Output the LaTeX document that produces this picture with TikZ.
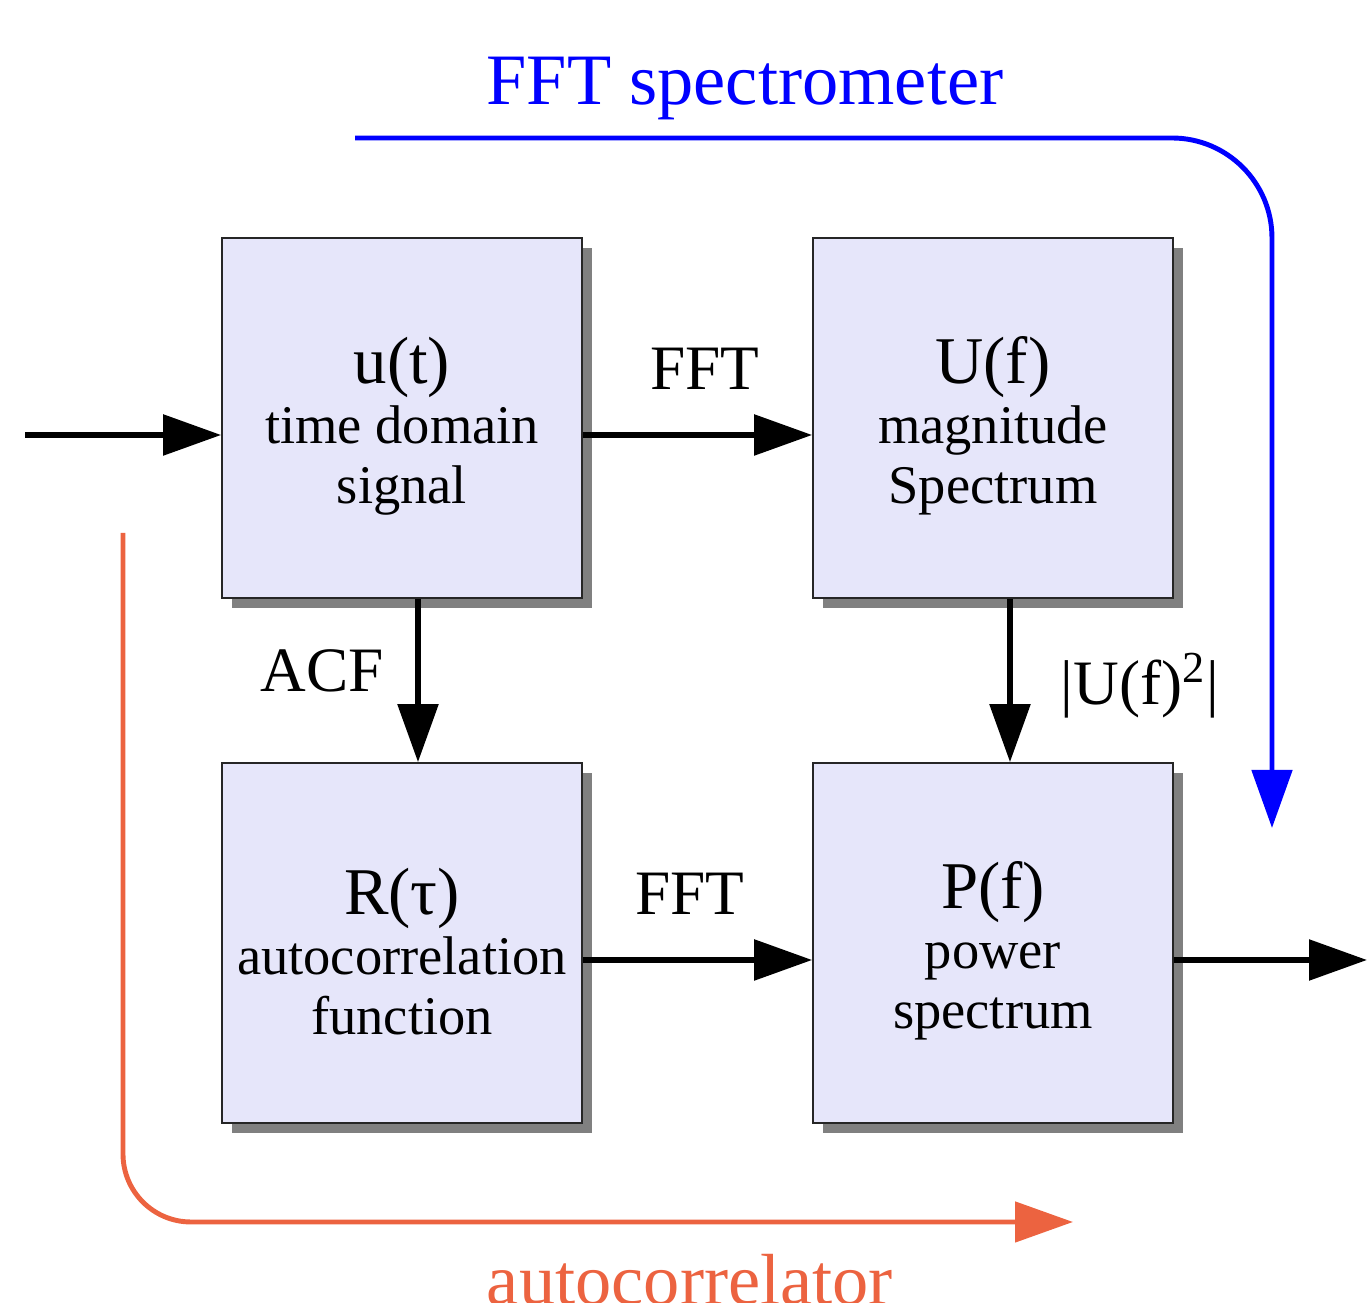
\documentclass[tikz,border=0pt]{standalone}
\usepackage{fontspec}
\setmainfont{Liberation Serif}
\usetikzlibrary{arrows.meta,shadows}

\definecolor{boxfill}{RGB}{230,230,250}
\definecolor{acorange}{RGB}{236,99,64}
\newcommand{\boxtitle}{\rule{0pt}{18pt}\fontsize{19}{21}\selectfont}

\begin{document}
\begin{tikzpicture}[
  blk/.style={draw=black!85, line width=0.5pt, fill=boxfill, minimum size=3.6cm, inner sep=0pt,
    align=center, font=\fontsize{15.5}{17.1}\selectfont,
    drop shadow={shadow xshift=0.1cm, shadow yshift=-0.1cm, fill=black!50, opacity=1}},
  tip/.style={-{Triangle[length=0.58cm,width=0.40cm]}},
  flow/.style={tip, line width=1.6pt},
  lbl/.style={font=\fontsize{18}{20}\selectfont, anchor=base},
  big/.style={font=\fontsize{20.6}{23}\selectfont, anchor=base}]
\useasboundingbox (0,0) rectangle (13.67,-13.03);

% the four blocks
\node[blk] (u) at (4.02,-4.18) {{\boxtitle u(t)}\\time domain\\signal};
\node[blk] (U) at (9.93,-4.18) {{\boxtitle U(f)}\\magnitude\\Spectrum};
\node[blk] (R) at (4.02,-9.43) {{\boxtitle R(τ)}\\autocorrelation\\function};
\node[blk] (P) at (9.93,-9.43) {{\boxtitle P(f)}\\power\\spectrum};

\coordinate (in) at (0.25,-4.35);
\coordinate (out) at (13.67,-9.60);

% signal flow
\draw[flow] (in) -- (in -| u.west);
\draw[flow] ([yshift=-0.17cm]u.east) -- ([yshift=-0.17cm]U.west);
\draw[flow] ([xshift=0.16cm]u.south) -- ([xshift=0.16cm]R.north);
\draw[flow] ([xshift=0.17cm]U.south) -- ([xshift=0.17cm]P.north);
\draw[flow] ([yshift=-0.17cm]R.east) -- ([yshift=-0.17cm]P.west);
\draw[flow] ([yshift=-0.17cm]P.east) -- (out);

\node[lbl] (fft1) at (7.05,-3.90) {FFT};
\node[lbl] (acf) at (3.22,-6.92) {ACF};
\node[lbl] (fft2) at (6.90,-9.15) {FFT};
\node[lbl] (usq) at (11.40,-7.05) {|U(f)\textsuperscript{2}|};

% the two paths round the blocks
\coordinate (fs0) at (3.55,-1.38);
\coordinate (fs1) at (12.72,-8.28);
\draw[blue, line width=1.4pt, rounded corners=1cm, tip] (fs0) -- (fs0 -| fs1) -- (fs1);
\node[big, text=blue] (fsl) at (7.45,-1.05) {FFT spectrometer};

\coordinate (ac0) at (1.23,-5.33);
\coordinate (ac1) at (10.73,-12.22);
\draw[acorange, line width=1.4pt, rounded corners=0.68cm, tip] (ac0) -- (ac0 |- ac1) -- (ac1);
\node[big, text=acorange] (acl) at (6.90,-13.05) {autocorrelator};
\end{tikzpicture}
\end{document}
